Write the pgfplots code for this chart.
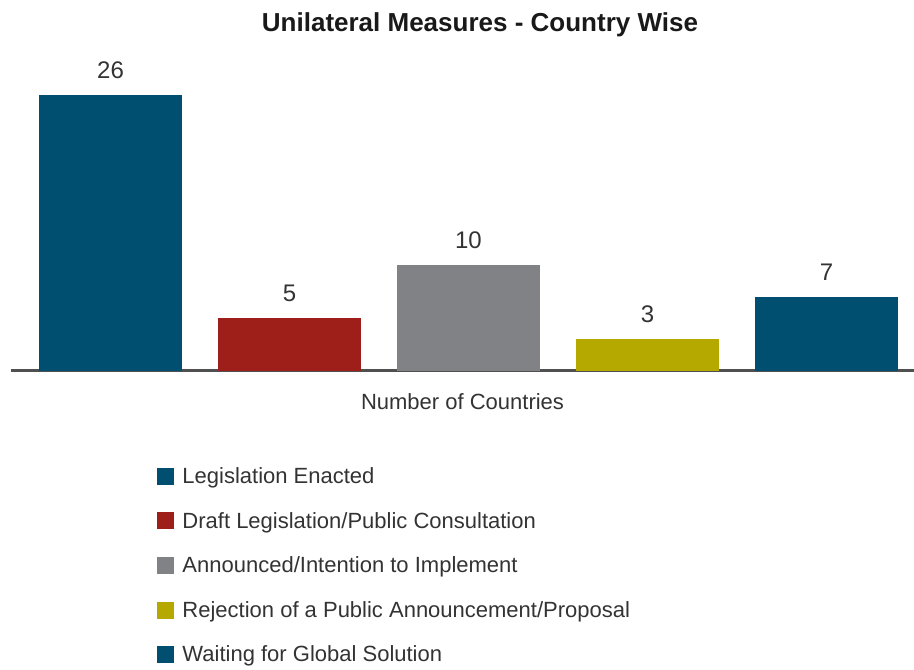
\documentclass[border=0pt]{standalone}
\usepackage{pgfplots}
\pgfplotsset{compat=1.18}
\usepackage{fontspec}
\setmainfont{Liberation Sans}
\definecolor{cblue}{RGB}{0,78,112}
\definecolor{cred}{RGB}{158,31,26}
\definecolor{cgray}{RGB}{129,130,134}
\definecolor{colive}{RGB}{181,169,0}
\definecolor{ctext}{RGB}{51,51,51}
\definecolor{caxis}{RGB}{80,80,80}
\begin{document}
\begin{tikzpicture}
\path[use as bounding box] (0,0) rectangle (914bp,670bp);
\node[anchor=base, font=\fontsize{26bp}{30bp}\selectfont\bfseries, text=black!90] at (480bp,638bp) {Unilateral Measures - Country Wise};
\begin{axis}[
  at={(11bp,299bp)}, anchor=south west,
  scale only axis,
  width=903bp, height=296.8bp,
  xmin=-0.556, xmax=4.489,
  ymin=0, ymax=28,
  ybar, bar width=143bp, bar shift=0pt,
  axis x line=bottom, axis y line=none,
  x axis line style={draw=caxis, line width=3bp, -},
  xtick=\empty, ytick=\empty,
  /pgf/number format/assume math mode=true,
  xlabel={Number of Countries},
  xlabel style={at={(axis description cs:0.5,0)}, anchor=base, yshift=-39bp, font=\fontsize{22bp}{26bp}\selectfont, text=ctext},
  nodes near coords,
  every node near coord/.append style={anchor=south, inner sep=0pt, yshift=16bp, font=\fontsize{24bp}{28bp}\selectfont, text=ctext},
  legend style={at={(axis description cs:0.162,-0.318)}, anchor=north west, draw=none, fill=none, font=\fontsize{22bp}{26bp}\selectfont, text=ctext, row sep=23.2bp, inner sep=0pt},
  legend cell align=left,
  legend image code/.code={\fill[#1] (0bp,-8.5bp) rectangle (17bp,8.5bp); \path (23bp,0bp);},
]
\addplot[fill=cblue, draw=none] coordinates {(0,26)};
\addplot[fill=cred, draw=none] coordinates {(1,5)};
\addplot[fill=cgray, draw=none] coordinates {(2,10)};
\addplot[fill=colive, draw=none] coordinates {(3,3)};
\addplot[fill=cblue, draw=none] coordinates {(4,7)};
\legend{Legislation Enacted, Draft Legislation/Public Consultation, Announced/Intention to Implement, Rejection of a Public Announcement/Proposal, Waiting for Global Solution}
\end{axis}
\end{tikzpicture}
\end{document}
